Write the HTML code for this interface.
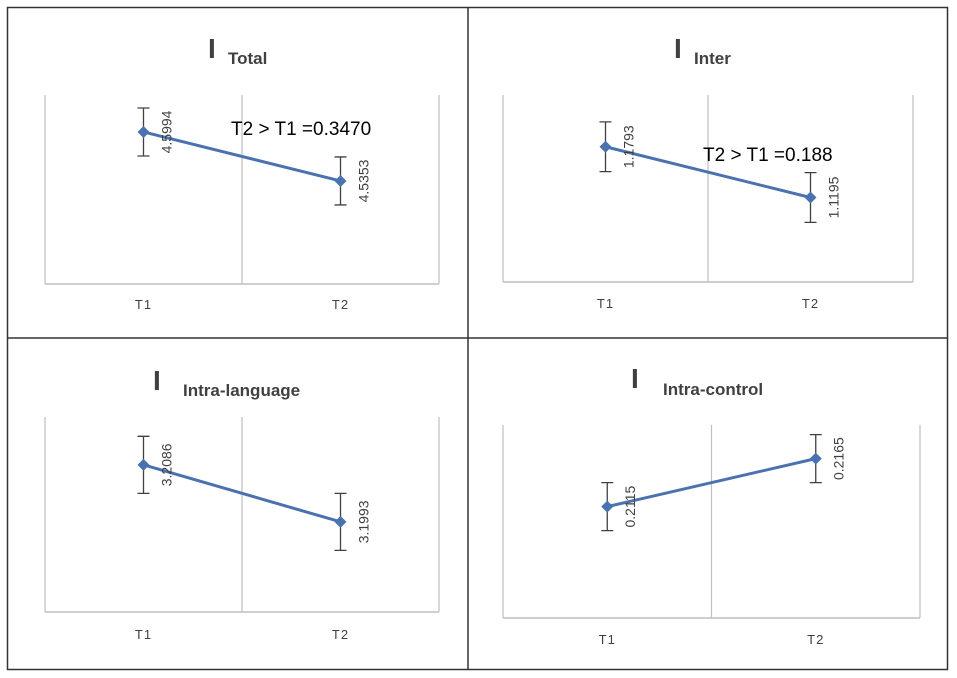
<!DOCTYPE html>
<html><head><meta charset="utf-8"><style>
body{margin:0;background:#fff;width:957px;height:678px;overflow:hidden}
svg{display:block}
</style></head><body>
<svg id="c" width="957" height="678" xmlns="http://www.w3.org/2000/svg" font-family="'Liberation Sans', sans-serif">
<rect x="7.5" y="7.5" width="940" height="662" fill="none" stroke="#333" stroke-width="1.5"/>
<line x1="468" y1="7" x2="468" y2="670" stroke="#333" stroke-width="1.5"/>
<line x1="7" y1="338" x2="948" y2="338" stroke="#333" stroke-width="1.5"/>
</svg>
<script>
const categories = ["T1","T2"];
const totalValues = [4.5994, 4.5353];
const totalErrors = [0.0314, 0.0314];
const interValues = [1.1793, 1.1195];
const interErrors = [0.0293, 0.0293];
const langValues = [3.2086, 3.1993];
const langErrors = [0.00465, 0.00465];
const ctrlValues = [0.2115, 0.2165];
const ctrlErrors = [0.0025, 0.0025];
const totalLabels = ["4.5994","4.5353"];
const interLabels = ["1.1793","1.1195"];
const langLabels = ["3.2086","3.1993"];
const ctrlLabels = ["0.2115","0.2165"];
const totalDomain = [4.4004, 4.6478];
const interDomain = [1.0199, 1.2403];
const langDomain = [3.1846, 3.2164];
const ctrlDomain = [0.1999, 0.2200];

const NS = "http://www.w3.org/2000/svg";
const svg = document.getElementById('c');
function mk(tag, attrs, parent, text){
  const e = document.createElementNS(NS, tag);
  for (const k in attrs) e.setAttribute(k, attrs[k]);
  if (text !== undefined) e.textContent = text;
  (parent||svg).appendChild(e);
  return e;
}
const panels = [
 {name:'total', title:'Total', vals:totalValues, errs:totalErrors, labels:totalLabels, dom:totalDomain,
  x0:45, x1:439, top:95, bot:284, tIx:208, tIy:58, tx:228, ty:64, catY:309, note:'T2 > T1 =0.3470', nx:231, ny:135},
 {name:'inter', title:'Inter', vals:interValues, errs:interErrors, labels:interLabels, dom:interDomain,
  x0:503, x1:913, top:95, bot:282, tIx:674, tIy:58, tx:694, ty:64, catY:308, note:'T2 > T1 =0.188', nx:703, ny:161},
 {name:'intra-language', title:'Intra-language', vals:langValues, errs:langErrors, labels:langLabels, dom:langDomain,
  x0:45, x1:439, top:417, bot:612, tIx:153, tIy:390, tx:183, ty:396, catY:639},
 {name:'intra-control', title:'Intra-control', vals:ctrlValues, errs:ctrlErrors, labels:ctrlLabels, dom:ctrlDomain,
  x0:503, x1:920, top:425, bot:618, tIx:631, tIy:388, tx:663, ty:395, catY:644}
];
panels.forEach(p=>{
  const g = mk('g',{});
  
  
  const bw = (p.x1-p.x0)/categories.length;
  const xs = i => p.x0 + bw*(i+0.5);
  const ys = v => p.bot - (v - p.dom[0])/(p.dom[1]-p.dom[0])*(p.bot-p.top);
  const t1 = mk('text',{x:p.tIx,y:p.tIy,'font-size':28,'font-weight':'bold',fill:'#404040'},g,'I');
  
  
  const t2 = mk('text',{x:p.tx,y:p.ty,'font-size':17,'font-weight':'bold',fill:'#404040'},g,p.title);
  
  
  for (let i=0;i<=categories.length;i++){
    const gx = p.x0 + bw*i;
    const l = mk('line',{x1:gx,y1:p.top,x2:gx,y2:p.bot,stroke:'#bfbfbf','stroke-width':1.2},g);
    
    
  }
  const ax = mk('line',{x1:p.x0,y1:p.bot,x2:p.x1,y2:p.bot,stroke:'#bfbfbf','stroke-width':1.5},g);
  
  
  categories.forEach((c,i)=>{
    const t = mk('text',{x:xs(i),y:p.catY,'font-size':13,'text-anchor':'middle',fill:'#404040','letter-spacing':'1'},g,c);
    
    
  });
  p.vals.forEach((v,i)=>{
    const x = xs(i), yt = ys(v+p.errs[i]), yb = ys(v-p.errs[i]);
    const eb = mk('path',{d:`M${x},${yt}V${yb}M${x-6},${yt}H${x+6}M${x-6},${yb}H${x+6}`,stroke:'#404040','stroke-width':1.3,fill:'none'},g);
    
    
  });
  const line = mk('polyline',{points:p.vals.map((v,i)=>xs(i)+','+ys(v)).join(' '),stroke:'#4a72b0','stroke-width':3,fill:'none'},g);
  
  
  p.vals.forEach((v,i)=>{
    const x = xs(i), y = ys(v);
    const m = mk('path',{d:`M${x},${y-6}L${x+6},${y}L${x},${y+6}L${x-6},${y}Z`,fill:'#4a72b0'},g);
    
    
    const lx = x+28;
    const lab = mk('text',{x:lx,y:y,'font-size':14,'text-anchor':'middle',fill:'#404040',transform:`rotate(-90 ${lx} ${y})`},g,p.labels[i]);
    
    
  });
  if (p.note){
    const n = mk('text',{x:p.nx,y:p.ny,'font-size':19,fill:'#000'},g,p.note);
    
    
  }
});
</script>
</body></html>
